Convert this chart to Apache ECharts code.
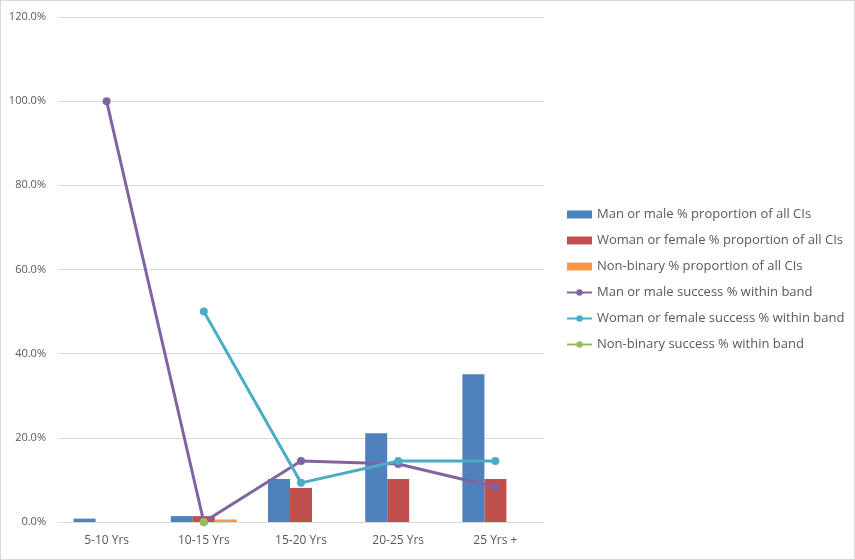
<!DOCTYPE html>
<html lang="en">
<head>
    <meta charset="utf-8">
    <title>Success by band</title>
    <script src="https://cdn.jsdelivr.net/npm/echarts@6.0.0/dist/echarts.min.js"></script>
    <style>
        html, body { margin: 0; padding: 0; background: #fff; }
        #chart {
            position: absolute; left: 0; top: 0;
            width: 853px; height: 558px;
            border: 1px solid #d9d9d9;
        }
    </style>
</head>
<body>
<div id="chart"></div>
<script type="text/javascript">
    var myChart = echarts.init(document.getElementById('chart'));

    // categories (experience bands)
    var bands = ['5-10 Yrs', '10-15 Yrs', '15-20 Yrs', '20-25 Yrs', '25 Yrs +'];

    // bars: % proportion of all CIs
    var maleProp = [0.8, 1.4, 10.2, 21.1, 35.1];
    var femaleProp = [null, 1.4, 8.1, 10.2, 10.2];
    var nonBinaryProp = [null, 0.6, null, null, null];

    // lines: success % within band
    var maleSuccess = [100, 0, 14.5, 13.8, 8.3];
    var femaleSuccess = [null, 50, 9.3, 14.5, 14.5];
    var nonBinarySuccess = [null, 0, null, null, null];

    var names = [
        'Man or male % proportion of all CIs',
        'Woman or female % proportion of all CIs',
        'Non-binary % proportion of all CIs',
        'Man or male success % within band',
        'Woman or female success % within band',
        'Non-binary success % within band'
    ];
    var colors = ['#4f81bd', '#c0504d', '#f79646', '#8064a2', '#4bacc6', '#9bbb59'];

    function barSeries(i, data) {
        return {
            name: names[i], type: 'bar', data: data,
            barWidth: 22, barGap: '0%',
            itemStyle: { color: colors[i] }
        };
    }
    function lineSeries(i, data) {
        return {
            name: names[i], type: 'line', data: data,
            symbol: 'circle', symbolSize: 8,
            lineStyle: { color: colors[i], width: 3 },
            itemStyle: { color: colors[i] },
            connectNulls: false
        };
    }

    myChart.setOption({
        animation: false,
        textStyle: { fontFamily: 'Open Sans' },
        grid: { left: 57, right: 310, top: 16, bottom: 37 },
        legend: {
            orient: 'vertical',
            left: 560, top: 202,
            itemGap: 13,
            itemWidth: 25, itemHeight: 8,
            textStyle: { color: '#595959', fontSize: 13 },
            data: names.map(function (n, i) {
                return i < 3 ? { name: n, icon: 'rect' } : { name: n };
            })
        },
        xAxis: {
            type: 'category',
            data: bands,
            axisLine: { lineStyle: { color: '#d9d9d9' } },
            axisTick: { show: false },
            axisLabel: { color: '#595959', fontSize: 12, margin: 13 }
        },
        yAxis: {
            type: 'value',
            min: 0, max: 120, interval: 20,
            axisLine: { show: false },
            axisTick: { show: false },
            splitLine: { lineStyle: { color: '#d9d9d9' } },
            axisLabel: {
                color: '#595959', fontSize: 11, margin: 12,
                formatter: function (v) { return v.toFixed(1) + '%'; }
            }
        },
        series: [
            barSeries(0, maleProp),
            barSeries(1, femaleProp),
            barSeries(2, nonBinaryProp),
            lineSeries(3, maleSuccess),
            lineSeries(4, femaleSuccess),
            lineSeries(5, nonBinarySuccess)
        ]
    });
</script>
</body>
</html>
